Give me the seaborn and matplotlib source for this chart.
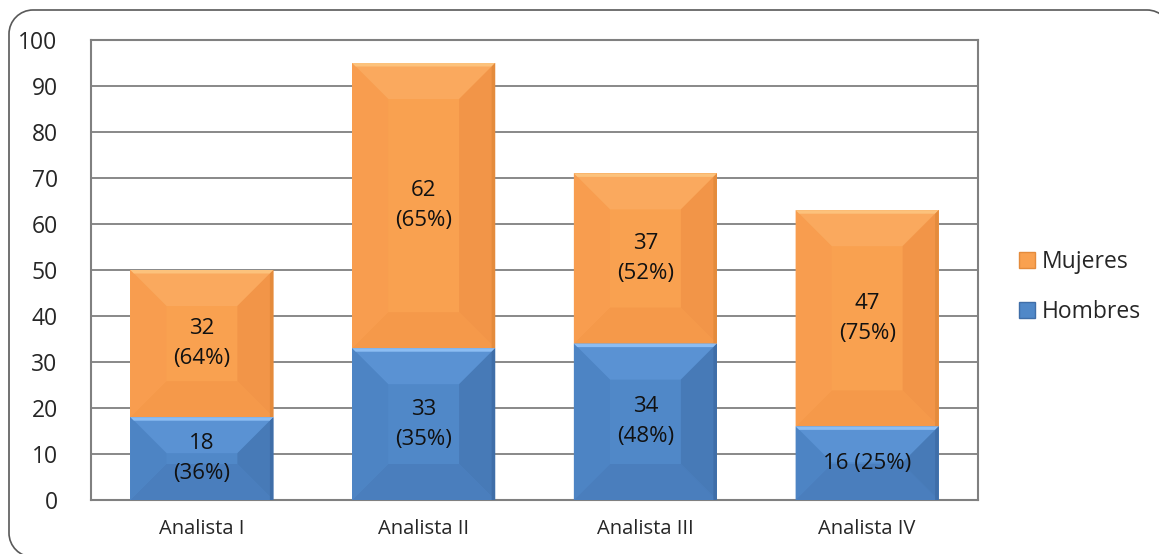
import numpy as np
import pandas as pd
import matplotlib
matplotlib.use("Agg")
import matplotlib.pyplot as plt
from matplotlib.patches import Polygon
from matplotlib.path import Path
from matplotlib.patches import PathPatch
from matplotlib.lines import Line2D
import seaborn as sns

# Staff by analyst level and sex
categories = ["Analista I", "Analista II", "Analista III", "Analista IV"]
hombres = [18, 33, 34, 16]
mujeres = [32, 62, 37, 47]
y_ticks = [0, 10, 20, 30, 40, 50, 60, 70, 80, 90, 100]

totals = [h + m for h, m in zip(hombres, mujeres)]
df = pd.DataFrame({"cat": categories, "hombres": hombres,
                   "mujeres": mujeres, "total": totals})

sns.set_theme(style="white")
plt.rcParams["font.family"] = ["Open Sans", "DejaVu Sans"]

ORANGE = {"face": "#F9A150", "top": "#FAA95E", "left": "#F89D4F",
          "right": "#F29548", "bottom": "#F5994A",
          "hi": "#FCC27C", "edge": "#E48B3C"}
BLUE = {"face": "#5088C8", "top": "#5A92D3", "left": "#4D84C4",
        "right": "#477AB7", "bottom": "#4A7EBD",
        "hi": "#8CBDF3", "edge": "#3F6EA8"}

W, H = 1159, 554
fig = plt.figure(figsize=(W / 100, H / 100), dpi=100)
ax = fig.add_axes([91 / W, 1 - 500 / H, (978 - 91) / W, (500 - 40) / H])

# Outer rounded frame: left edge, top edge and the two corners that show
r = 24
left, top, right, bottom = 9, 10, 1147 + r, 557
k = 0.5523
verts = [
    (right, top + r),
    (right, top + r - k * r), (right - r + k * r, top), (right - r, top),
    (left + r, top),
    (left + r - k * r, top), (left, top + r - k * r), (left, top + r),
    (left, bottom - r),
    (left, bottom - r + k * r), (left + r - k * r, bottom), (left + r, bottom),
]
codes = [Path.MOVETO,
         Path.CURVE4, Path.CURVE4, Path.CURVE4,
         Path.LINETO,
         Path.CURVE4, Path.CURVE4, Path.CURVE4,
         Path.LINETO,
         Path.CURVE4, Path.CURVE4, Path.CURVE4]
fig_verts = [(x / W, 1 - y / H) for x, y in verts]
frame = PathPatch(Path(fig_verts, codes), transform=fig.transFigure,
                  facecolor="none", edgecolor="#595959", linewidth=1.2,
                  clip_on=False, zorder=0)
fig.add_artist(frame)

# Stacked bars: total in orange, men overlaid in blue
bw = 0.645
sns.barplot(data=df, x="cat", y="total", color=ORANGE["face"], width=bw,
            saturation=1, ax=ax, zorder=3, linewidth=0)
n_orange = len(ax.patches)
sns.barplot(data=df, x="cat", y="hombres", color=BLUE["face"], width=bw,
            saturation=1, ax=ax, zorder=3, linewidth=0)

ax.set_ylim(0, 100)
ax.set_xlim(-0.5, len(categories) - 0.5)
ax.set_yticks(y_ticks)
ax.set_yticklabels([str(t) for t in y_ticks], fontsize=16.5)
ax.tick_params(axis="y", length=0, pad=24)
ax.tick_params(axis="x", length=0, pad=14, labelsize=14.5)
ax.set_xlabel("")
ax.set_ylabel("")

ax.yaxis.grid(True, color="#7F7F7F", linewidth=1.3, zorder=1)
ax.set_axisbelow(True)
for side, sp in ax.spines.items():
    sp.set_visible(True)
    sp.set_color("#808080")
    sp.set_linewidth(1.5)

fig.canvas.draw()
px_x = ax.transData.transform((1, 0))[0] - ax.transData.transform((0, 0))[0]
px_y = ax.transData.transform((0, 1))[1] - ax.transData.transform((0, 0))[1]


def bevel(x0, x1, y0, y1, pal, size_px=36):
    w_px = (x1 - x0) * px_x
    h_px = (y1 - y0) * px_y
    b = min(size_px, w_px / 2, h_px / 2)
    bx, by = b / px_x, b / px_y
    ix0, ix1, iy0, iy1 = x0 + bx, x1 - bx, y0 + by, y1 - by
    polys = {
        "top": [(x0, y1), (x1, y1), (ix1, iy1), (ix0, iy1)],
        "bottom": [(x0, y0), (x1, y0), (ix1, iy0), (ix0, iy0)],
        "left": [(x0, y0), (x0, y1), (ix0, iy1), (ix0, iy0)],
        "right": [(x1, y0), (x1, y1), (ix1, iy1), (ix1, iy0)],
    }
    for key, pts in polys.items():
        ax.add_patch(Polygon(pts, closed=True, facecolor=pal[key],
                             edgecolor="none", zorder=4))
    # thin highlight along the top and shade along the right side
    s = 3.5
    ax.add_patch(Polygon([(x0, y1), (x1, y1), (x1 - s / px_x, y1 - s / px_y),
                          (x0 + s / px_x, y1 - s / px_y)], closed=True,
                         facecolor=pal["hi"], edgecolor="none", zorder=4.5))
    ax.add_patch(Polygon([(x1, y0), (x1, y1), (x1 - s / px_x, y1 - s / px_y),
                          (x1 - s / px_x, y0)], closed=True,
                         facecolor=pal["edge"], edgecolor="none", zorder=4.5))


orange_bars = ax.patches[:n_orange]
blue_bars = ax.patches[n_orange:n_orange + len(categories)]
for ob, bb in zip(orange_bars, blue_bars):
    x0 = ob.get_x()
    x1 = x0 + ob.get_width()
    bevel(x0, x1, bb.get_height(), ob.get_height(), ORANGE)
    bevel(x0, x1, 0, bb.get_height(), BLUE)

# Value labels: count and share within each analyst level
for i, (h, m, tot) in enumerate(zip(hombres, mujeres, totals)):
    ph = round(100 * h / tot)
    pm = round(100 * m / tot)
    h_txt = f"{h} ({ph}%)" if h * px_y < 76 else f"{h}\n({ph}%)"
    ax.text(i, h / 2, h_txt, ha="center", va="center", fontsize=16,
            color="#111111", zorder=6, linespacing=1.55)
    ax.text(i, h + m / 2, f"{m}\n({pm}%)", ha="center", va="center",
            fontsize=16, color="#111111", zorder=6, linespacing=1.55)

# Legend with square markers
handles = [Line2D([], [], marker="s", linestyle="none", markersize=11,
                  markerfacecolor=ORANGE["face"], markeredgecolor=ORANGE["edge"],
                  label="Mujeres"),
           Line2D([], [], marker="s", linestyle="none", markersize=11,
                  markerfacecolor=BLUE["face"], markeredgecolor=BLUE["edge"],
                  label="Hombres")]
fig.legend(handles=handles, loc="center left",
           bbox_to_anchor=(1006 / W, 1 - 287 / H), frameon=False,
           fontsize=16.5, handletextpad=0.15, labelspacing=1.1,
           handlelength=1.0, borderaxespad=0)

fig.savefig("out.png", dpi=100)
